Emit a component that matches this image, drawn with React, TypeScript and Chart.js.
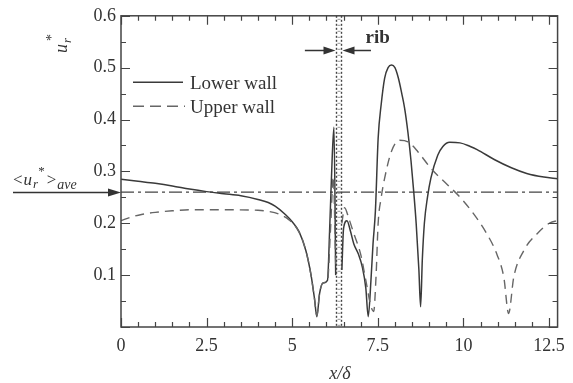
import React, { useEffect, useRef } from 'react';
import { Chart, registerables } from 'chart.js';
Chart.register(...registerables);

// Lower wall (solid) — x/δ and u_r*
const lowerX = [0, 0.5, 1.0, 1.5, 2.0, 2.5, 3.0, 3.5, 4.0, 4.3, 4.5, 4.8, 5.0, 5.2, 5.4, 5.55, 5.65, 5.72, 5.8, 5.9, 6.03, 6.1, 6.17, 6.22, 6.27, 6.35, 6.45, 6.5, 6.6, 6.7, 6.8, 6.93, 7.05, 7.15, 7.22, 7.3, 7.36, 7.43, 7.51, 7.6, 7.7, 7.8, 7.9, 8.0, 8.1, 8.2, 8.28, 8.38, 8.47, 8.55, 8.62, 8.7, 8.75, 8.8, 8.86, 8.95, 9.05, 9.25, 9.4, 9.6, 9.9, 10.2, 10.4, 10.9, 11.4, 11.85, 12.35, 12.75];
const lowerY = [0.285, 0.281, 0.277, 0.272, 0.266, 0.261, 0.257, 0.253, 0.246, 0.240, 0.233, 0.217, 0.203, 0.184, 0.147, 0.100, 0.055, 0.020, 0.065, 0.085, 0.090, 0.200, 0.330, 0.385, 0.100, null, 0.110, 0.190, 0.205, 0.185, 0.160, 0.141, 0.115, 0.075, 0.020, 0.090, 0.160, 0.224, 0.364, 0.430, 0.480, 0.500, 0.505, 0.500, 0.480, 0.450, 0.423, 0.375, 0.320, 0.260, 0.200, 0.110, 0.039, 0.130, 0.200, 0.250, 0.287, 0.331, 0.348, 0.356, 0.355, 0.348, 0.342, 0.323, 0.307, 0.296, 0.289, 0.286];

// Upper wall (dashed)
const upperX = [0, 0.3, 0.6, 1.0, 1.5, 2.0, 3.0, 4.0, 4.3, 4.6, 4.9, 5.2, 5.4, 5.55, 5.65, 5.72, 5.8, 5.9, 6.03, 6.12, 6.2, 6.27, 6.35, 6.45, 6.53, 6.65, 6.8, 7.0, 7.15, 7.3, 7.38, 7.45, 7.51, 7.6, 7.7, 7.9, 8.14, 8.38, 8.67, 9.05, 9.54, 9.92, 10.31, 10.69, 10.98, 11.18, 11.32, 11.47, 11.76, 12.14, 12.53, 12.75];
const upperY = [0.205, 0.212, 0.217, 0.221, 0.224, 0.226, 0.226, 0.225, 0.223, 0.218, 0.207, 0.183, 0.147, 0.100, 0.055, 0.022, 0.065, 0.085, 0.088, 0.190, 0.290, 0.120, null, 0.200, 0.230, 0.210, 0.180, 0.140, 0.090, 0.040, 0.030, 0.100, 0.200, 0.250, 0.287, 0.339, 0.360, 0.357, 0.338, 0.306, 0.274, 0.249, 0.217, 0.179, 0.140, 0.096, 0.026, 0.096, 0.147, 0.179, 0.201, 0.205];

const avgValue = 0.26;
const ribStart = 6.28;
const ribEnd = 6.43;
const xTickValues = [0, 2.5, 5, 7.5, 10, 12.5];
const xTickLabels = ['0', '2.5', '5', '7.5', '10', '12.5'];
const yTickValues = [0.1, 0.2, 0.3, 0.4, 0.5, 0.6];
const yTickLabels = ['0.1', '0.2', '0.3', '0.4', '0.5', '0.6'];
const xMax = 12.75;
const yMax = 0.6;

const SERIF = '"Liberation Serif", "Times New Roman", serif';
const INK = '#333';

function arrowHead(ctx: CanvasRenderingContext2D, x: number, y: number, dir: number, len = 11, hw = 4) {
  ctx.beginPath();
  ctx.moveTo(x, y);
  ctx.lineTo(x - dir * len, y - hw);
  ctx.lineTo(x - dir * len, y + hw);
  ctx.closePath();
  ctx.fill();
}

const overlay = {
  id: 'overlay',
  afterDraw(chart: any) {
    const { ctx, chartArea: a, scales } = chart;
    const xs = scales.x;
    const ys = scales.y;
    ctx.save();

    // rib
    const r0 = Math.round(xs.getPixelForValue(ribStart)) + 0.5;
    const r1 = Math.round(xs.getPixelForValue(ribEnd)) + 0.5;
    ctx.strokeStyle = '#444';
    ctx.lineWidth = 1.4;
    ctx.setLineDash([2, 2]);
    for (const p of [r0, r1]) {
      ctx.beginPath();
      ctx.moveTo(p, a.top);
      ctx.lineTo(p, a.bottom);
      ctx.stroke();
    }
    ctx.setLineDash([]);
    ctx.strokeStyle = '#999';
    ctx.lineWidth = 1;
    for (let yy = a.top + 3; yy < a.bottom; yy += 6) {
      ctx.beginPath();
      ctx.moveTo(r0 + 1, yy + 0.5);
      ctx.lineTo(r1 - 1, yy + 0.5);
      ctx.stroke();
    }

    // frame
    ctx.strokeStyle = '#444';
    ctx.lineWidth = 1.5;
    ctx.strokeRect(a.left, a.top, a.right - a.left, a.bottom - a.top);

    // ticks inward
    ctx.lineWidth = 1.2;
    for (let i = 0; i <= 25; i++) {
      const v = i * 0.5;
      const p = Math.round(xs.getPixelForValue(v)) + 0.5;
      const len = i % 5 === 0 ? 9 : 5;
      ctx.beginPath();
      ctx.moveTo(p, a.bottom);
      ctx.lineTo(p, a.bottom - len);
      ctx.moveTo(p, a.top);
      ctx.lineTo(p, a.top + len);
      ctx.stroke();
    }
    for (let i = 0; i <= 12; i++) {
      const v = i * 0.05;
      const p = Math.round(ys.getPixelForValue(v)) + 0.5;
      const len = i % 2 === 0 ? 9 : 5;
      ctx.beginPath();
      ctx.moveTo(a.left, p);
      ctx.lineTo(a.left + len, p);
      ctx.moveTo(a.right, p);
      ctx.lineTo(a.right - len, p);
      ctx.stroke();
    }

    // mean arrow on left
    const ay = Math.round(ys.getPixelForValue(avgValue)) + 0.5;
    ctx.strokeStyle = INK;
    ctx.fillStyle = INK;
    ctx.lineWidth = 1.5;
    ctx.beginPath();
    ctx.moveTo(13, ay);
    ctx.lineTo(a.left - 8, ay);
    ctx.stroke();
    arrowHead(ctx, a.left, ay, 1, 13, 4);

    // <u_r*>_ave label
    ctx.textBaseline = 'alphabetic';
    ctx.textAlign = 'left';
    let tx = 13;
    const by = ay - 8;
    ctx.font = `17px ${SERIF}`;
    ctx.fillText('<', tx, by); tx += ctx.measureText('<').width + 1;
    ctx.font = `italic 17px ${SERIF}`;
    ctx.fillText('u', tx, by); tx += ctx.measureText('u').width + 1;
    ctx.font = `italic 13px ${SERIF}`;
    ctx.fillText('r', tx, by + 3); tx += ctx.measureText('r').width;
    ctx.font = `13px ${SERIF}`;
    ctx.fillText('*', tx, by - 10); tx += ctx.measureText('*').width + 2;
    ctx.font = `17px ${SERIF}`;
    ctx.fillText('>', tx, by); tx += ctx.measureText('>').width + 1;
    ctx.font = `italic 14px ${SERIF}`;
    ctx.fillText('ave', tx, by + 4);

    // rib arrows
    const ry = Math.round(ys.getPixelForValue(0.534)) + 0.5;
    ctx.lineWidth = 1.3;
    ctx.beginPath();
    ctx.moveTo(xs.getPixelForValue(5.37), ry);
    ctx.lineTo(r0 - 6, ry);
    ctx.moveTo(xs.getPixelForValue(7.3), ry);
    ctx.lineTo(r1 + 6, ry);
    ctx.stroke();
    arrowHead(ctx, r0 - 1, ry, 1, 12, 4);
    arrowHead(ctx, r1 + 1, ry, -1, 12, 4);
    ctx.font = `bold 19px ${SERIF}`;
    ctx.fillText('rib', xs.getPixelForValue(7.14), ys.getPixelForValue(0.548));

    // legend
    const lx0 = a.left + 12;
    const lx1 = a.left + 62;
    const l1 = a.top + 66.5;
    const l2 = a.top + 90.5;
    ctx.strokeStyle = '#3a3a3a';
    ctx.lineWidth = 1.4;
    ctx.beginPath();
    ctx.moveTo(lx0, l1);
    ctx.lineTo(lx1, l1);
    ctx.stroke();
    ctx.strokeStyle = '#666';
    ctx.setLineDash([11, 6]);
    ctx.beginPath();
    ctx.moveTo(lx0, l2);
    ctx.lineTo(lx1 + 2, l2);
    ctx.stroke();
    ctx.setLineDash([]);
    ctx.fillStyle = INK;
    ctx.font = `19px ${SERIF}`;
    ctx.fillText('Lower wall', a.left + 69, l1 + 6.5);
    ctx.fillText('Upper wall', a.left + 69, l2 + 6.5);

    // x title
    ctx.font = `italic 18px ${SERIF}`;
    ctx.textAlign = 'center';
    ctx.fillText('x/δ', 340, 379);

    // y title (rotated)
    ctx.save();
    ctx.translate(67, 53);
    ctx.rotate(-Math.PI / 2);
    ctx.textAlign = 'left';
    ctx.font = `italic 18px ${SERIF}`;
    ctx.fillText('u', 0, 0);
    const w = ctx.measureText('u').width;
    ctx.font = `italic 13px ${SERIF}`;
    ctx.fillText('r', w + 1, 4);
    ctx.font = `14px ${SERIF}`;
    ctx.fillText('*', w + 3, -11);
    ctx.restore();

    ctx.restore();
  },
};

export default function App() {
  const ref = useRef<HTMLCanvasElement | null>(null);
  useEffect(() => {
    if (!ref.current) return;
    const chart = new Chart(ref.current, {
      type: 'line',
      data: {
        datasets: [
          {
            label: 'Upper wall',
            data: upperX.map((x, i) => ({ x, y: upperY[i] })) as any,
            borderColor: '#666',
            borderWidth: 1.4,
            borderDash: [9, 6],
            pointRadius: 0,
            cubicInterpolationMode: 'monotone',
            spanGaps: false,
          },
          {
            label: 'Lower wall',
            data: lowerX.map((x, i) => ({ x, y: lowerY[i] })) as any,
            borderColor: '#3a3a3a',
            borderWidth: 1.5,
            pointRadius: 0,
            cubicInterpolationMode: 'monotone',
            spanGaps: false,
          },
          {
            label: 'average',
            data: [{ x: 0, y: avgValue }, { x: xMax, y: avgValue }],
            borderColor: '#444',
            borderWidth: 1.4,
            borderDash: [13, 4, 3, 4],
            pointRadius: 0,
          },
        ],
      },
      options: {
        responsive: false,
        animation: false,
        devicePixelRatio: 1,
        layout: { padding: { top: 14, right: 12, left: 0, bottom: 0 } },
        plugins: { legend: { display: false }, tooltip: { enabled: false } },
        scales: {
          x: {
            type: 'linear',
            min: 0,
            max: xMax,
            grid: { display: false, drawTicks: false },
            border: { display: false },
            afterBuildTicks: (s: any) => { s.ticks = xTickValues.map((v) => ({ value: v })); },
            afterFit: (s: any) => { s.height = 56; },
            ticks: {
              padding: 8,
              color: INK,
              font: { family: SERIF, size: 18 },
              maxRotation: 0,
              callback: (v: any) => { const i = xTickValues.indexOf(Number(v)); return i >= 0 ? xTickLabels[i] : ''; },
            },
          },
          y: {
            type: 'linear',
            min: 0,
            max: yMax,
            grid: { display: false, drawTicks: false },
            border: { display: false },
            afterBuildTicks: (s: any) => { s.ticks = yTickValues.map((v) => ({ value: v })); },
            afterFit: (s: any) => { s.width = 121; },
            ticks: {
              padding: 5,
              color: INK,
              font: { family: SERIF, size: 18 },
              callback: (v: any) => { const i = yTickValues.findIndex((t) => Math.abs(t - Number(v)) < 1e-9); return i >= 0 ? yTickLabels[i] : ''; },
            },
          },
        },
      },
      plugins: [overlay],
    } as any);
    return () => chart.destroy();
  }, []);
  return (
    <div style={{ position: 'absolute', left: 0, top: 0, width: 573, height: 383, background: '#fff' }}>
      <canvas ref={ref} width={573} height={383} style={{ width: 573, height: 383 }} />
    </div>
  );
}
